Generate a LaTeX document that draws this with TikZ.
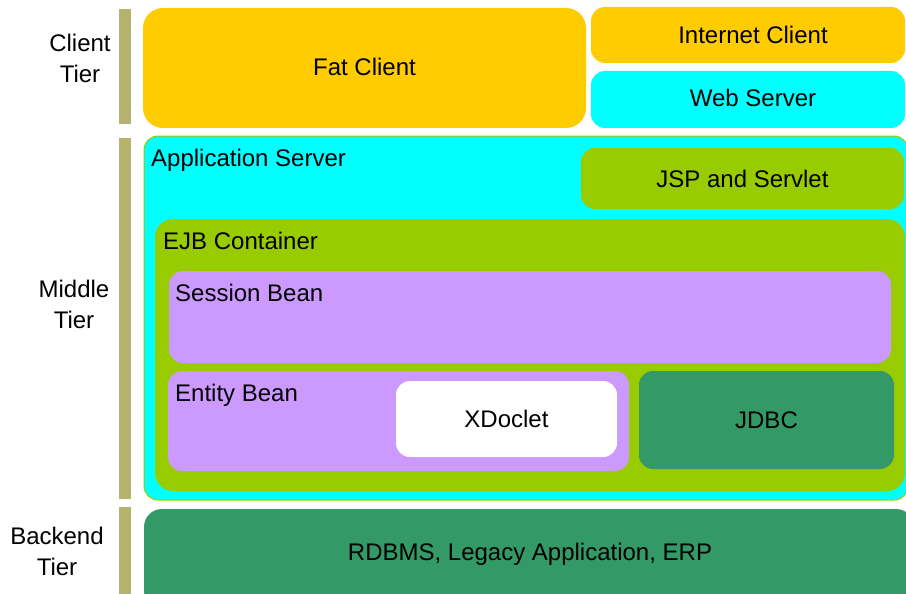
\documentclass[tikz,border=0pt]{standalone}
\usepackage{fontspec}
\setmainfont{Liberation Sans}
\definecolor{cOrange}{HTML}{FFCC00}
\definecolor{cCyan}{HTML}{00FFFF}
\definecolor{cLime}{HTML}{99CC00}
\definecolor{cPurple}{HTML}{CC99FF}
\definecolor{cDark}{HTML}{339966}
\definecolor{cBar}{HTML}{B4B46E}
\begin{document}
\begin{tikzpicture}[x=1pt,y=-1pt,
  box/.style={rectangle, inner sep=0pt, rounded corners=14pt, font=\fontsize{24}{28}\selectfont},
  lbl/.style={inner sep=0pt, anchor=base west, font=\fontsize{24}{28}\selectfont},
  ctr/.style={inner sep=0pt, font=\fontsize{24}{28}\selectfont},
  tier/.style={inner sep=0pt, align=center, font=\fontsize{24}{31}\selectfont}]
\useasboundingbox (0,0) rectangle (906,594);
\clip (0,0) rectangle (906,594);
% tier bars
\fill[cBar] (119,9) rectangle (131,124);
\fill[cBar] (119,138) rectangle (131,499);
\fill[cBar] (119,507) rectangle (131,600);
% tier labels
\node[tier] (tclient) at (80,58) {Client\\Tier};
\node[tier] (tmiddle) at (74,304) {Middle\\Tier};
\node[tier] (tback) at (57,551) {Backend\\Tier};
% client tier
\node[box, rounded corners=20pt, fill=cOrange, minimum width=443pt, minimum height=120pt] (fat) at (364.5,68) {};
\node[ctr] (fatlbl) at (364.5,67) {Fat Client};
\node[box, fill=cOrange, minimum width=314pt, minimum height=56pt] (inet) at (748,35) {};
\node[ctr] (inetlbl) at (753,35) {Internet Client};
\node[box, fill=cCyan, minimum width=314pt, minimum height=57pt] (web) at (748,99.5) {};
\node[ctr] (weblbl) at (753,97.5) {Web Server};
% middle tier
\node[box, fill=cCyan, draw=cLime, line width=1pt, minimum width=764pt, minimum height=364pt] (app) at (526,318) {};
\node[lbl] (applbl) at (151,166.5) {Application Server};
\node[box, fill=cLime, minimum width=323pt, minimum height=61pt] (jsp) at (742.5,178.5) {JSP and Servlet};
\node[box, rounded corners=18pt, fill=cLime, minimum width=750pt, minimum height=272pt] (ejb) at (530,355) {};
\node[lbl] (ejblbl) at (163,249.5) {EJB Container};
\node[box, fill=cPurple, minimum width=722pt, minimum height=92pt] (session) at (530,317) {};
\node[lbl] (sesslbl) at (175,301.5) {Session Bean};
\node[box, fill=cPurple, minimum width=461pt, minimum height=100pt] (entity) at (398.5,421) {};
\node[lbl] (entlbl) at (175,401.5) {Entity Bean};
\node[box, fill=white, minimum width=221pt, minimum height=76pt] (xdoc) at (506.5,419) {XDoclet};
\node[box, fill=cDark, minimum width=255pt, minimum height=98pt] (jdbc) at (766.5,420) {JDBC};
% backend tier
\node[box, rounded corners=18pt, fill=cDark, minimum width=770pt, minimum height=100pt] (back) at (529,559) {};
\node[ctr] (backlbl) at (530,554) {RDBMS, Legacy Application, ERP};
\end{tikzpicture}
\end{document}
